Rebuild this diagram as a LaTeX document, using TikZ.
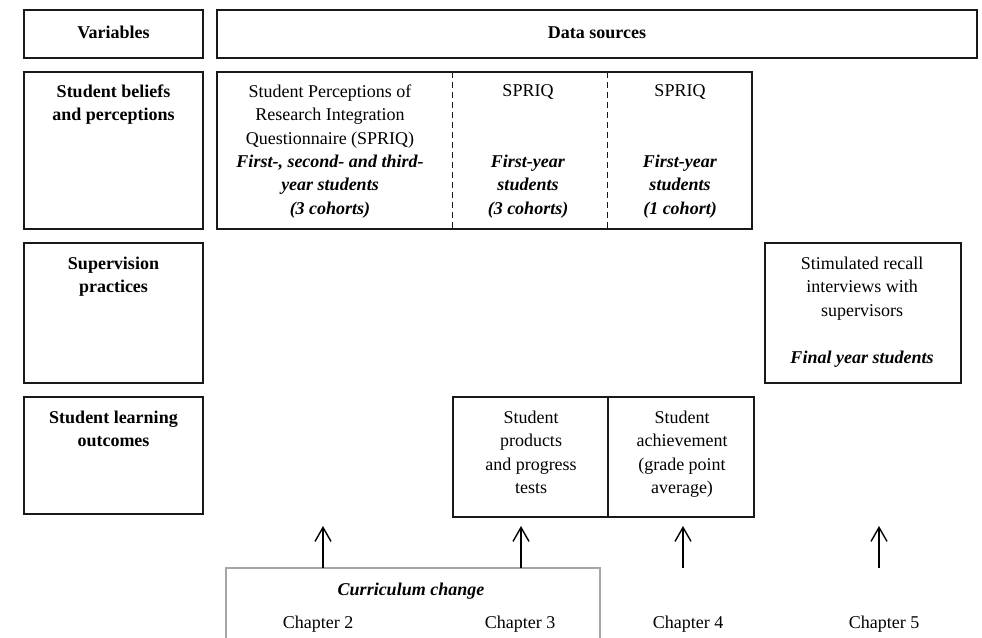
\documentclass[tikz,border=0pt]{standalone}
\usepackage{fontspec}
\setmainfont{Liberation Serif}
\usetikzlibrary{arrows.meta}
\begin{document}
\begin{tikzpicture}[x=1pt,y=-1pt,
  every node/.style={font=\fontsize{18}{23.3}\selectfont, inner sep=0pt, outer sep=0pt},
  headbox/.style={draw=black!90, line width=2.8pt},
  cellbox/.style={draw=black!90, line width=1.6pt},
  curbox/.style={draw=black!35, line width=1.5pt},
  divider/.style={draw=black!90, line width=1pt, dash pattern=on 6pt off 4pt},
  uparrow/.style={draw=black, line width=1.4pt, -{Straight Barb[length=14pt,width=16pt]}},
  txt/.style={align=center, anchor=north},
  lbl/.style={anchor=base}]
\useasboundingbox (0,0) rectangle (982,637);
\fill[white] (0,0) rectangle (982,637);

% header
\node[headbox, minimum width=179pt, minimum height=48pt] (varbox) at (113.5,34) {};
\node[headbox, minimum width=760pt, minimum height=48pt] (dsbox) at (597,34) {};
\node[lbl] (vartxt) at (113.5,38) {\textbf{Variables}};
\node[lbl] (dstxt) at (597,38) {\textbf{Data sources}};

% row 1
\node[cellbox, minimum width=179pt, minimum height=157pt] (r1left) at (113.5,150.5) {};
\node[cellbox, minimum width=535pt, minimum height=157pt] (r1data) at (484.5,150.5) {};
\coordinate (dv1t) at (452,72);
\coordinate (dv1b) at (452,229);
\coordinate (dv2t) at (607,72);
\coordinate (dv2b) at (607,229);
\draw[divider] (dv1t) -- (dv1b);
\draw[divider] (dv2t) -- (dv2b);
\node[txt] (r1lt) at (113.5,85) {\textbf{Student beliefs}\\\textbf{and perceptions}};
\node[txt] (c1t) at (330,85) {Student Perceptions of\\Research Integration\\Questionnaire (SPRIQ)\\\textbf{\textit{First-, second- and third-}}\\\textbf{\textit{year students}}\\\textbf{\textit{(3 cohorts)}}};
\node[txt] (c2t) at (528,85) {SPRIQ};
\node[txt] (c2b) at (528,155) {\textbf{\textit{First-year}}\\\textbf{\textit{students}}\\\textbf{\textit{(3 cohorts)}}};
\node[txt] (c3t) at (680,85) {SPRIQ};
\node[txt] (c3b) at (680,155) {\textbf{\textit{First-year}}\\\textbf{\textit{students}}\\\textbf{\textit{(1 cohort)}}};

% row 2
\node[cellbox, minimum width=179pt, minimum height=140pt] (r2left) at (113.5,313) {};
\node[cellbox, minimum width=196pt, minimum height=140pt] (srbox) at (863,313) {};
\node[txt] (r2lt) at (113.5,257) {\textbf{Supervision}\\\textbf{practices}};
\node[txt] (srt) at (862,257) {Stimulated recall\\interviews with\\supervisors};
\node[lbl] (srb) at (862,363) {\textbf{\textit{Final year students}}};

% row 3
\node[cellbox, minimum width=179pt, minimum height=117pt] (r3left) at (113.5,455.5) {};
\node[cellbox, minimum width=155pt, minimum height=120pt] (prodbox) at (530.5,457) {};
\node[cellbox, minimum width=146pt, minimum height=120pt] (achbox) at (681,457) {};
\node[txt] (r3lt) at (113.5,411) {\textbf{Student learning}\\\textbf{outcomes}};
\node[txt] (prodt) at (531,411) {Student\\products\\and progress\\tests};
\node[txt] (acht) at (682,411) {Student\\achievement\\(grade point\\average)};

% curriculum change
\begin{scope}
\clip (0,0) rectangle (982,637);
\node[curbox, minimum width=374pt, minimum height=100pt] (curbox) at (413,618) {};
\end{scope}
\node[lbl] (curt) at (411,595) {\textbf{\textit{Curriculum change}}};
\node[lbl] (ch2) at (318,628) {Chapter 2};
\node[lbl] (ch3) at (520,628) {Chapter 3};
\node[lbl] (ch4) at (688,628) {Chapter 4};
\node[lbl] (ch5) at (884,628) {Chapter 5};

% arrows
\coordinate (a1s) at (323,568);
\coordinate (a1e) at (323,526);
\coordinate (a2s) at (521,568);
\coordinate (a2e) at (521,526);
\coordinate (a3s) at (683,568);
\coordinate (a3e) at (683,526);
\coordinate (a4s) at (879,568);
\coordinate (a4e) at (879,526);
\draw[uparrow] (a1s) -- (a1e);
\draw[uparrow] (a2s) -- (a2e);
\draw[uparrow] (a3s) -- (a3e);
\draw[uparrow] (a4s) -- (a4e);
\end{tikzpicture}
\end{document}
